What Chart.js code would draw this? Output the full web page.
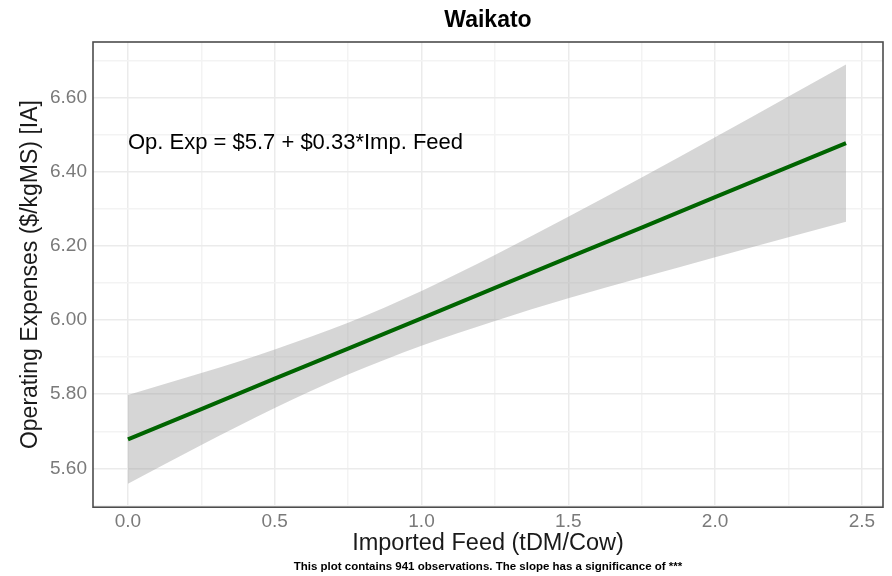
<!DOCTYPE html>
<html>
<head>
<meta charset="utf-8">
<script src="https://cdn.jsdelivr.net/npm/chart.js@4.4.0/dist/chart.umd.min.js"></script>
<style>
  html, body { margin: 0; padding: 0; background: #fff; }
</style>
</head>
<body>
<canvas id="chart" width="892" height="576"></canvas>
<script>
// Данные линии регрессии и доверительного интервала
const feedX = [0, 0.25, 0.5, 0.75, 1.0, 1.25, 1.5, 1.75, 2.0, 2.25, 2.446];
const fitY = [5.678, 5.760, 5.842, 5.923, 6.005, 6.087, 6.169, 6.250, 6.332, 6.414, 6.478];
const upperY = [5.798, 5.857, 5.921, 5.993, 6.079, 6.176, 6.279, 6.385, 6.494, 6.604, 6.690];
const lowerY = [5.558, 5.663, 5.763, 5.853, 5.931, 5.998, 6.059, 6.115, 6.170, 6.224, 6.266];

// Деления осей
const xMajorTicks = [0, 0.5, 1.0, 1.5, 2.0, 2.5];
const xMinorTicks = [0.25, 0.75, 1.25, 1.75, 2.25];
const yMajorTicks = [5.6, 5.8, 6.0, 6.2, 6.4, 6.6];
const yMinorTicks = [5.5, 5.7, 5.9, 6.1, 6.3, 6.5, 6.7];

const chartTitle = 'Waikato';
const xTitle = 'Imported Feed (tDM/Cow)';
const yTitle = 'Operating Expenses ($/kgMS) [IA]';
const caption = 'This plot contains 941 observations. The slope has a significance of ***';
const equationText = 'Op. Exp = $5.7 + $0.33*Imp. Feed';
const equationPos = { x: 0, y: 6.478 };

const FONT = "'Liberation Sans', Arial, sans-serif";

const toPoints = (ys) => feedX.map((x, i) => ({ x, y: ys[i] }));
const isMajor = (list, v) => list.some((m) => Math.abs(m - v) < 1e-6);
const allTicks = (a, b) => [...a, ...b].sort((p, q) => p - q).map((value) => ({ value }));

// Рамка вокруг области графика
const panelBorderPlugin = {
  id: 'panelBorder',
  afterDatasetsDraw(chart) {
    const { ctx, chartArea: { left, top, right, bottom } } = chart;
    ctx.save();
    ctx.strokeStyle = '#4d4d4d';
    ctx.lineWidth = 1.6;
    ctx.strokeRect(left, top, right - left, bottom - top);
    ctx.restore();
  },
};

// Подпись с уравнением
const equationPlugin = {
  id: 'equation',
  afterDatasetsDraw(chart) {
    const { ctx, scales } = chart;
    ctx.save();
    ctx.font = `22px ${FONT}`;
    ctx.fillStyle = '#000';
    ctx.textAlign = 'left';
    ctx.textBaseline = 'middle';
    ctx.fillText(equationText, scales.x.getPixelForValue(equationPos.x), scales.y.getPixelForValue(equationPos.y));
    ctx.restore();
  },
};

const ctx = document.getElementById('chart').getContext('2d');
new Chart(ctx, {
  type: 'line',
  data: {
    datasets: [
      {
        label: 'upper',
        data: toPoints(upperY),
        order: 2,
        borderWidth: 0,
        pointRadius: 0,
        cubicInterpolationMode: 'monotone',
        backgroundColor: 'rgba(153,153,153,0.4)',
        fill: '+1',
      },
      {
        label: 'lower',
        data: toPoints(lowerY),
        order: 1,
        borderWidth: 0,
        pointRadius: 0,
        cubicInterpolationMode: 'monotone',
        fill: false,
      },
      {
        label: 'fit',
        data: toPoints(fitY),
        order: 0,
        borderColor: '#006400',
        borderWidth: 4,
        pointRadius: 0,
        fill: false,
      },
    ],
  },
  options: {
    responsive: false,
    animation: false,
    layout: { padding: { left: 0, right: 9, top: 0, bottom: 0 } },
    plugins: {
      legend: { display: false },
      tooltip: { enabled: false },
      title: {
        display: true,
        text: chartTitle,
        fullSize: false,
        color: '#000',
        font: { family: FONT, size: 23, weight: 'bold' },
        padding: { top: 7, bottom: 7.4 },
      },
      subtitle: {
        display: true,
        text: caption,
        position: 'bottom',
        fullSize: false,
        color: '#000',
        font: { family: FONT, size: 11.5, weight: 'bold' },
        padding: { top: 0, bottom: 2 },
      },
    },
    scales: {
      x: {
        type: 'linear',
        min: -0.119,
        max: 2.572,
        afterBuildTicks: (scale) => { scale.ticks = allTicks(xMajorTicks, xMinorTicks); },
        afterFit: (scale) => { scale.height = 53; },
        grid: {
          drawTicks: false,
          color: (c) => (isMajor(xMajorTicks, c.tick.value) ? '#ebebeb' : '#f3f3f3'),
          lineWidth: 1.5,
        },
        border: { display: false },
        ticks: {
          padding: 3,
          maxRotation: 0,
          autoSkip: false,
          color: '#7a7a7a',
          font: { family: FONT, size: 19 },
          callback: (v) => (isMajor(xMajorTicks, v) ? v.toFixed(1) : ''),
        },
        title: {
          display: true,
          text: xTitle,
          color: '#1a1a1a',
          font: { family: FONT, size: 23.5 },
          padding: { top: 0, bottom: 3 },
        },
      },
      y: {
        type: 'linear',
        min: 5.495,
        max: 6.751,
        afterBuildTicks: (scale) => { scale.ticks = allTicks(yMajorTicks, yMinorTicks); },
        afterFit: (scale) => { scale.width = 93; },
        grid: {
          drawTicks: false,
          color: (c) => (isMajor(yMajorTicks, c.tick.value) ? '#ebebeb' : '#f3f3f3'),
          lineWidth: 1.5,
        },
        border: { display: false },
        ticks: {
          padding: 6,
          autoSkip: false,
          color: '#7a7a7a',
          font: { family: FONT, size: 19 },
          callback: (v) => (isMajor(yMajorTicks, v) ? v.toFixed(2) : ''),
        },
        title: {
          display: true,
          text: yTitle,
          color: '#1a1a1a',
          font: { family: FONT, size: 23 },
          padding: { top: 17, bottom: 0 },
        },
      },
    },
  },
  plugins: [panelBorderPlugin, equationPlugin],
});
</script>
</body>
</html>
